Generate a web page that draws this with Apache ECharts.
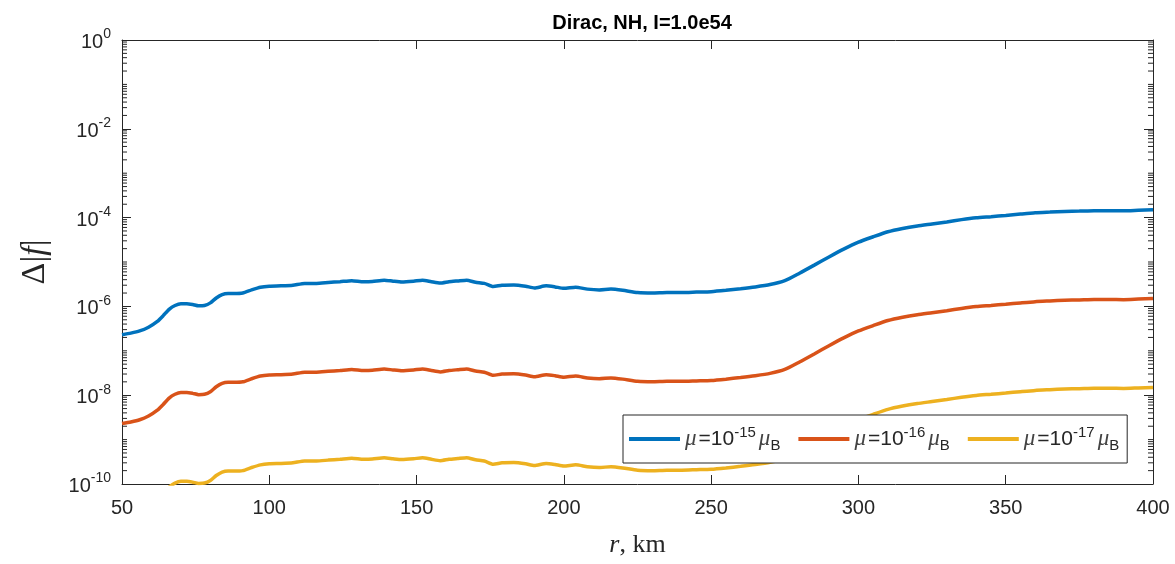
<!DOCTYPE html>
<html>
<head>
<meta charset="utf-8">
<script src="https://cdn.jsdelivr.net/npm/echarts@6.0.0/dist/echarts.min.js"></script>
<style>
  html, body { margin: 0; padding: 0; background: #fff; }
  #main { width: 1175px; height: 564px; }
</style>
</head>
<body>
<div id="main"></div>
<script>
// radius, km
const rKm = [50,53,56,59,62,64,66,68,70,72,74,76,78,80,82,84,86,88,91,94,
  97,100,104,108,112,116,120,124,128,132,135,139,142,145,149,152,155,158,161,164,
  167,170,173,176,179,183,187,190,194,197,200,204,208,212,216,220,225,230,235,240,
  245,250,255,260,265,270,275,280,285,290,295,300,305,310,315,320,325,330,335,340,
  345,350,355,360,365,370,375,380,385,390,395,400];

// mu = 1e-15 muB
const mu15 = [2.3e-7,2.5e-7,2.8e-7,3.4e-7,4.6e-7,6.2e-7,8.6e-7,1.05e-6,1.15e-6,1.15e-6,
  1.1e-6,1.03e-6,1.05e-6,1.2e-6,1.55e-6,1.85e-6,1.95e-6,1.95e-6,2.0e-6,2.35e-6,
  2.7e-6,2.85e-6,2.9e-6,3.0e-6,3.3e-6,3.3e-6,3.45e-6,3.6e-6,3.8e-6,3.6e-6,
  3.65e-6,3.9e-6,3.7e-6,3.55e-6,3.7e-6,3.9e-6,3.6e-6,3.35e-6,3.6e-6,3.75e-6,
  3.9e-6,3.5e-6,3.3e-6,2.8e-6,3.0e-6,3.05e-6,2.85e-6,2.6e-6,2.9e-6,2.75e-6,
  2.55e-6,2.7e-6,2.45e-6,2.35e-6,2.45e-6,2.3e-6,2.05e-6,2.0e-6,2.05e-6,2.05e-6,
  2.1e-6,2.15e-6,2.3e-6,2.5e-6,2.75e-6,3.1e-6,3.8e-6,5.6e-6,8.5e-6,1.3e-5,
  1.95e-5,2.8e-5,3.7e-5,4.8e-5,5.7e-5,6.5e-5,7.2e-5,8.0e-5,9.0e-5,9.9e-5,
  1.05e-4,1.12e-4,1.2e-4,1.28e-4,1.33e-4,1.38e-4,1.4e-4,1.43e-4,1.43e-4,1.42e-4,
  1.46e-4,1.5e-4];

// mu = 1e-16 muB
const mu16 = [2.3e-9,2.5e-9,2.8e-9,3.4e-9,4.6e-9,6.2e-9,8.6e-9,1.05e-8,1.15e-8,1.15e-8,
  1.1e-8,1.03e-8,1.05e-8,1.2e-8,1.55e-8,1.85e-8,1.95e-8,1.95e-8,2.0e-8,2.35e-8,
  2.7e-8,2.85e-8,2.9e-8,3.0e-8,3.3e-8,3.3e-8,3.45e-8,3.6e-8,3.8e-8,3.6e-8,
  3.65e-8,3.9e-8,3.7e-8,3.55e-8,3.7e-8,3.9e-8,3.6e-8,3.35e-8,3.6e-8,3.75e-8,
  3.9e-8,3.5e-8,3.3e-8,2.8e-8,3.0e-8,3.05e-8,2.85e-8,2.6e-8,2.9e-8,2.75e-8,
  2.55e-8,2.7e-8,2.45e-8,2.35e-8,2.45e-8,2.3e-8,2.05e-8,2.0e-8,2.05e-8,2.05e-8,
  2.1e-8,2.15e-8,2.3e-8,2.5e-8,2.75e-8,3.1e-8,3.8e-8,5.6e-8,8.5e-8,1.3e-7,
  1.95e-7,2.8e-7,3.7e-7,4.8e-7,5.7e-7,6.5e-7,7.2e-7,8.0e-7,9.0e-7,9.9e-7,
  1.05e-6,1.12e-6,1.2e-6,1.28e-6,1.33e-6,1.38e-6,1.4e-6,1.43e-6,1.43e-6,1.42e-6,
  1.46e-6,1.5e-6];

// mu = 1e-17 muB (below 1e-10 at small r)
const mu17 = [null,null,null,null,null,null,8.6e-11,1.05e-10,1.15e-10,1.15e-10,
  1.1e-10,1.03e-10,1.05e-10,1.2e-10,1.55e-10,1.85e-10,1.95e-10,1.95e-10,2.0e-10,2.35e-10,
  2.7e-10,2.85e-10,2.9e-10,3.0e-10,3.3e-10,3.3e-10,3.45e-10,3.6e-10,3.8e-10,3.6e-10,
  3.65e-10,3.9e-10,3.7e-10,3.55e-10,3.7e-10,3.9e-10,3.6e-10,3.35e-10,3.6e-10,3.75e-10,
  3.9e-10,3.5e-10,3.3e-10,2.8e-10,3.0e-10,3.05e-10,2.85e-10,2.6e-10,2.9e-10,2.75e-10,
  2.55e-10,2.7e-10,2.45e-10,2.35e-10,2.45e-10,2.3e-10,2.05e-10,2.0e-10,2.05e-10,2.05e-10,
  2.1e-10,2.15e-10,2.3e-10,2.5e-10,2.75e-10,3.1e-10,3.8e-10,5.6e-10,8.5e-10,1.3e-9,
  1.95e-9,2.8e-9,3.7e-9,4.8e-9,5.7e-9,6.5e-9,7.2e-9,8.0e-9,9.0e-9,9.9e-9,
  1.05e-8,1.12e-8,1.2e-8,1.28e-8,1.33e-8,1.38e-8,1.4e-8,1.43e-8,1.43e-8,1.42e-8,
  1.46e-8,1.5e-8];

const seriesNames = ['mu15', 'mu16', 'mu17'];
const seriesExp = ['-15', '-16', '-17'];
const seriesColors = ['#0072BD', '#D95319', '#EDB120'];

const axisColor = '#262626';

// minor log ticks (2..9 x 10^n and odd decades)
const minorTicks = [];
for (let e = -10; e < 0; e++) {
  for (let m = 2; m <= 9; m++) minorTicks.push([50, m * Math.pow(10, e)]);
  if (e % 2 === 0) minorTicks.push([50, Math.pow(10, e + 1)]);
}

function pairs(ys) {
  return rKm.map((r, i) => [r, ys[i]]);
}

const chart = echarts.init(document.getElementById('main'));

const yLabelFmt = function (v) {
  const e = Math.round(Math.log10(v));
  if (e % 2 !== 0) return '';
  return '{b|10}{s|' + e + '}';
};

chart.setOption({
  animation: false,
  title: {
    text: 'Dirac, NH, I=1.0e54',
    left: 637,
    top: 8,
    textAlign: 'center',
    textStyle: { fontFamily: 'Liberation Sans', fontSize: 20, fontWeight: 'bold', color: '#000' }
  },
  grid: { left: 122, right: 22, top: 40, bottom: 80 },
  legend: {
    data: seriesNames,
    left: 623,
    top: 415,
    padding: [10, 8, 10, 6],
    itemGap: 18,
    itemTextGap: 7,
    itemWidth: 51,
    itemHeight: 4,
    icon: 'rect',
    borderColor: axisColor,
    borderWidth: 1,
    backgroundColor: '#fff',
    formatter: function (name) {
      const i = seriesNames.indexOf(name);
      return '{m|μ}{t|=10}{sup|' + seriesExp[i] + '}{m2|μ}{sub|B}';
    },
    textStyle: {
      color: axisColor,
      rich: {
        m: { fontFamily: 'Liberation Serif', fontStyle: 'italic', fontSize: 23, color: '#444', lineHeight: 28, verticalAlign: 'middle' },
        m2: { fontFamily: 'Liberation Serif', fontStyle: 'italic', fontSize: 23, color: '#444', lineHeight: 28, verticalAlign: 'middle', padding: [0, 0, 0, 3] },
        t: { fontFamily: 'Liberation Sans', fontSize: 21, color: axisColor, lineHeight: 28, verticalAlign: 'middle', padding: [0, 0, 0, 2] },
        sup: { fontFamily: 'Liberation Sans', fontSize: 15, color: axisColor, lineHeight: 28, verticalAlign: 'top' },
        sub: { fontFamily: 'Liberation Sans', fontSize: 15, color: axisColor, lineHeight: 28, verticalAlign: 'bottom' }
      }
    }
  },
  xAxis: [{
    type: 'value',
    min: 50,
    max: 400,
    interval: 50,
    name: '{i|r}{n|, km}',
    nameLocation: 'middle',
    nameGap: 48,
    nameTextStyle: {
      rich: {
        i: { fontFamily: 'Liberation Serif', fontStyle: 'italic', fontSize: 26, color: axisColor },
        n: { fontFamily: 'Liberation Serif', fontSize: 26, color: axisColor }
      }
    },
    axisLine: { lineStyle: { color: axisColor, width: 1 } },
    axisTick: { inside: true, length: 9, lineStyle: { color: axisColor } },
    axisLabel: { fontFamily: 'Liberation Sans', fontSize: 20, color: axisColor, margin: 14 },
    splitLine: { show: false }
  }, {
    type: 'value',
    position: 'top',
    min: 50,
    max: 400,
    interval: 50,
    axisLine: { show: true, lineStyle: { color: axisColor, width: 1 } },
    axisTick: { show: true, inside: true, length: 9, lineStyle: { color: axisColor } },
    axisLabel: { show: false },
    splitLine: { show: false }
  }],
  yAxis: [{
    type: 'log',
    logBase: 10,
    min: 1e-10,
    max: 1,
    interval: 2,
    name: 'Δ|{i|f}|',
    nameLocation: 'middle',
    nameRotate: 90,
    nameGap: 70,
    nameTextStyle: {
      fontFamily: 'Liberation Serif',
      fontSize: 34,
      color: axisColor,
      rich: {
        i: { fontFamily: 'Liberation Serif', fontStyle: 'italic', fontSize: 34, color: axisColor }
      }
    },
    axisLine: { show: true, lineStyle: { color: axisColor, width: 1 } },
    axisTick: { show: true, inside: true, length: 9, lineStyle: { color: axisColor } },
    axisLabel: {
      margin: 11,
      formatter: yLabelFmt,
      rich: {
        b: { fontFamily: 'Liberation Sans', fontSize: 20, color: axisColor, lineHeight: 25, verticalAlign: 'bottom' },
        s: { fontFamily: 'Liberation Sans', fontSize: 14, color: axisColor, lineHeight: 25, verticalAlign: 'top' }
      }
    },
    splitLine: { show: false }
  }, {
    type: 'log',
    logBase: 10,
    min: 1e-10,
    max: 1,
    interval: 2,
    position: 'right',
    axisLine: { show: true, lineStyle: { color: axisColor, width: 1 } },
    axisTick: { show: true, inside: true, length: 9, lineStyle: { color: axisColor } },
    axisLabel: { show: false },
    splitLine: { show: false }
  }],
  series: [
    {
      name: seriesNames[0], type: 'line', data: pairs(mu15), showSymbol: false, smooth: 0.2,
      lineStyle: { color: seriesColors[0], width: 3.5 }, itemStyle: { color: seriesColors[0] }, clip: true
    },
    {
      name: seriesNames[1], type: 'line', data: pairs(mu16), showSymbol: false, smooth: 0.2,
      lineStyle: { color: seriesColors[1], width: 3.5 }, itemStyle: { color: seriesColors[1] }, clip: true
    },
    {
      name: seriesNames[2], type: 'line', data: pairs(mu17), showSymbol: false, smooth: 0.2, connectNulls: false,
      lineStyle: { color: seriesColors[2], width: 3.5 }, itemStyle: { color: seriesColors[2] }, clip: true
    },
    {
      name: 'minorTicks', type: 'custom', data: minorTicks, silent: true, clip: false, z: 5,
      renderItem: function (params, api) {
        const v = api.value(1);
        const a = api.coord([50, v]);
        const b = api.coord([400, v]);
        return {
          type: 'group',
          children: [
            { type: 'line', shape: { x1: a[0], y1: a[1], x2: a[0] + 5, y2: a[1] }, style: { stroke: axisColor, lineWidth: 1 } },
            { type: 'line', shape: { x1: b[0], y1: b[1], x2: b[0] - 5, y2: b[1] }, style: { stroke: axisColor, lineWidth: 1 } }
          ]
        };
      }
    }
  ]
});
</script>
</body>
</html>
